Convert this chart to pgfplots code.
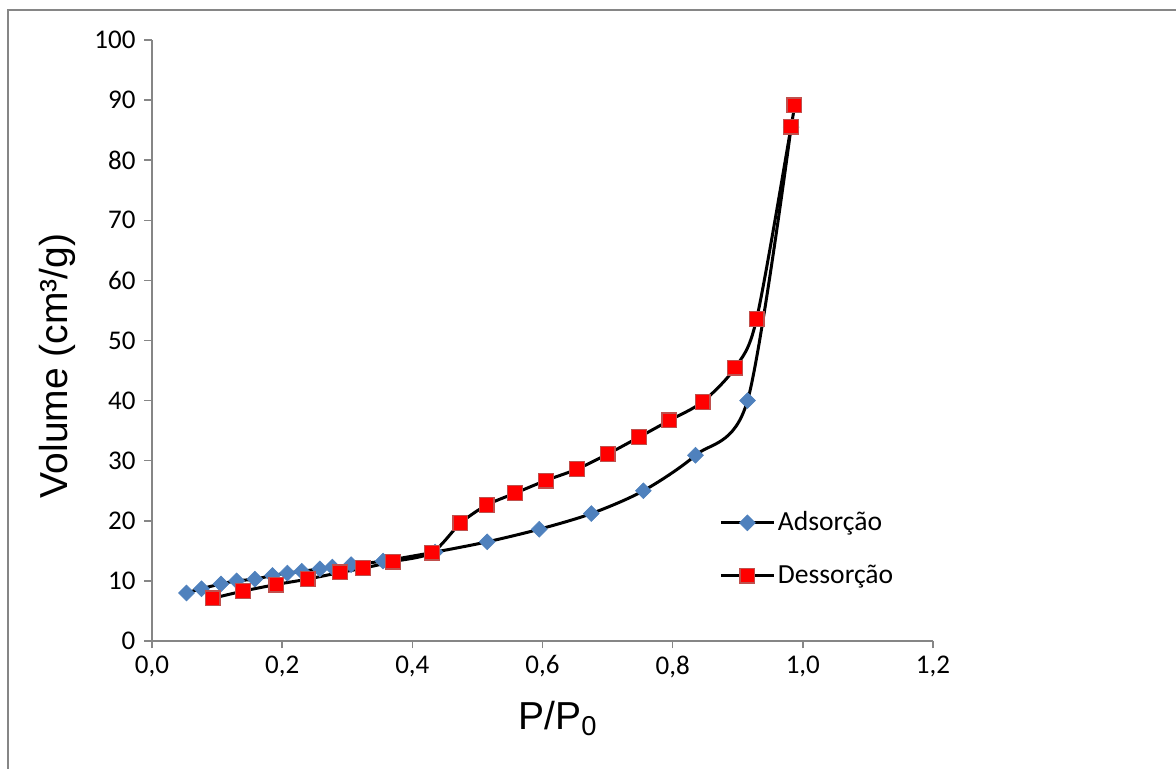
\documentclass[border=0pt]{standalone}
\usepackage{fontspec}
\setmainfont{Carlito}
\newfontfamily\arialfont{Liberation Sans}
\usepackage{pgfplots}
\pgfplotsset{compat=1.18}
\definecolor{axisgray}{HTML}{868686}
\definecolor{adsblue}{HTML}{4F81BD}
\definecolor{desred}{HTML}{FF0000}
\definecolor{desedge}{HTML}{C0504D}

\begin{document}
\begin{tikzpicture}
\useasboundingbox (-76pt,-64pt) rectangle (512pt,320.5pt);
% chart area frame (only top and left edges are in view)
\draw[axisgray, line width=1pt] (-72pt,-70pt) -- (-72pt,315.25pt) -- (520pt,315.25pt);
\begin{axis}[
  at={(0pt,0pt)}, anchor=south west,
  scale only axis, width=390.5pt, height=300.5pt,
  xmin=0, xmax=1.2, ymin=0, ymax=100,
  xtick={0,0.2,0.4,0.6,0.8,1.0,1.2},
  ytick={0,10,20,30,40,50,60,70,80,90,100},
  axis lines=left,
  axis line style={-, draw=axisgray, line width=0.75pt},
  tick align=outside, major tick length=3.75pt,
  tick style={draw=axisgray, line width=0.75pt},
  /pgf/number format/assume math mode=true,
  ticklabel style={font=\fontsize{13.5pt}{16pt}\selectfont},
  xticklabel style={/pgf/number format/.cd, fixed, fixed zerofill, precision=1, use comma},
  yticklabel style={xshift=-1pt},
  ylabel={Volume (cm³/g)},
  ylabel style={font=\arialfont\fontsize{19.5pt}{23pt}\selectfont,
    at={(axis description cs:-0.1216,0.4576)}, anchor=center},
  xlabel={P/P\textsubscript{0}},
  xlabel style={font=\arialfont\fontsize{19.5pt}{23pt}\selectfont,
    at={(axis description cs:0.52,-0.147)}, anchor=base},
  legend style={draw=none, fill=none, at={(axis description cs:0.726,0.153)},
    anchor=west, inner sep=0pt, row sep=13pt, nodes={inner sep=1.25pt},
    font=\fontsize{13.8pt}{16pt}\selectfont},
  legend cell align=left,
  legend image code/.code={\draw[mark repeat=2, mark phase=2, #1]
    plot coordinates {(0pt,0pt) (13.25pt,0pt) (26.5pt,0pt)};},
]
% Adsorcao
\addplot[black, line width=1.5pt, smooth, mark=square*, mark size=2.8pt,
  mark options={rotate=45, fill=adsblue, draw=adsblue, line width=0.3pt}]
coordinates {
  (0.053,8.0) (0.076,8.7) (0.106,9.5) (0.130,10.0) (0.158,10.3)
  (0.185,10.9) (0.208,11.3) (0.230,11.6) (0.258,12.0) (0.277,12.3)
  (0.306,12.7) (0.355,13.3) (0.435,14.8) (0.515,16.5) (0.595,18.6)
  (0.675,21.2) (0.755,25.0) (0.835,30.9) (0.915,40.0) (0.982,85.5)
};
% Dessorcao
\addplot[black, line width=1.5pt, smooth, mark=square*, mark size=3.7pt,
  mark options={fill=desred, draw=desedge, line width=0.6pt}]
coordinates {
  (0.987,89.1) (0.982,85.6) (0.929,53.6) (0.896,45.5) (0.846,39.8)
  (0.795,36.7) (0.748,33.9) (0.700,31.1) (0.653,28.6) (0.605,26.7)
  (0.558,24.6) (0.514,22.6) (0.474,19.6) (0.430,14.7) (0.370,13.2)
  (0.324,12.1) (0.289,11.4) (0.239,10.3) (0.191,9.4) (0.140,8.3)
  (0.093,7.1)
};
\legend{Adsorção, Dessorção}
\end{axis}
\end{tikzpicture}
\end{document}
